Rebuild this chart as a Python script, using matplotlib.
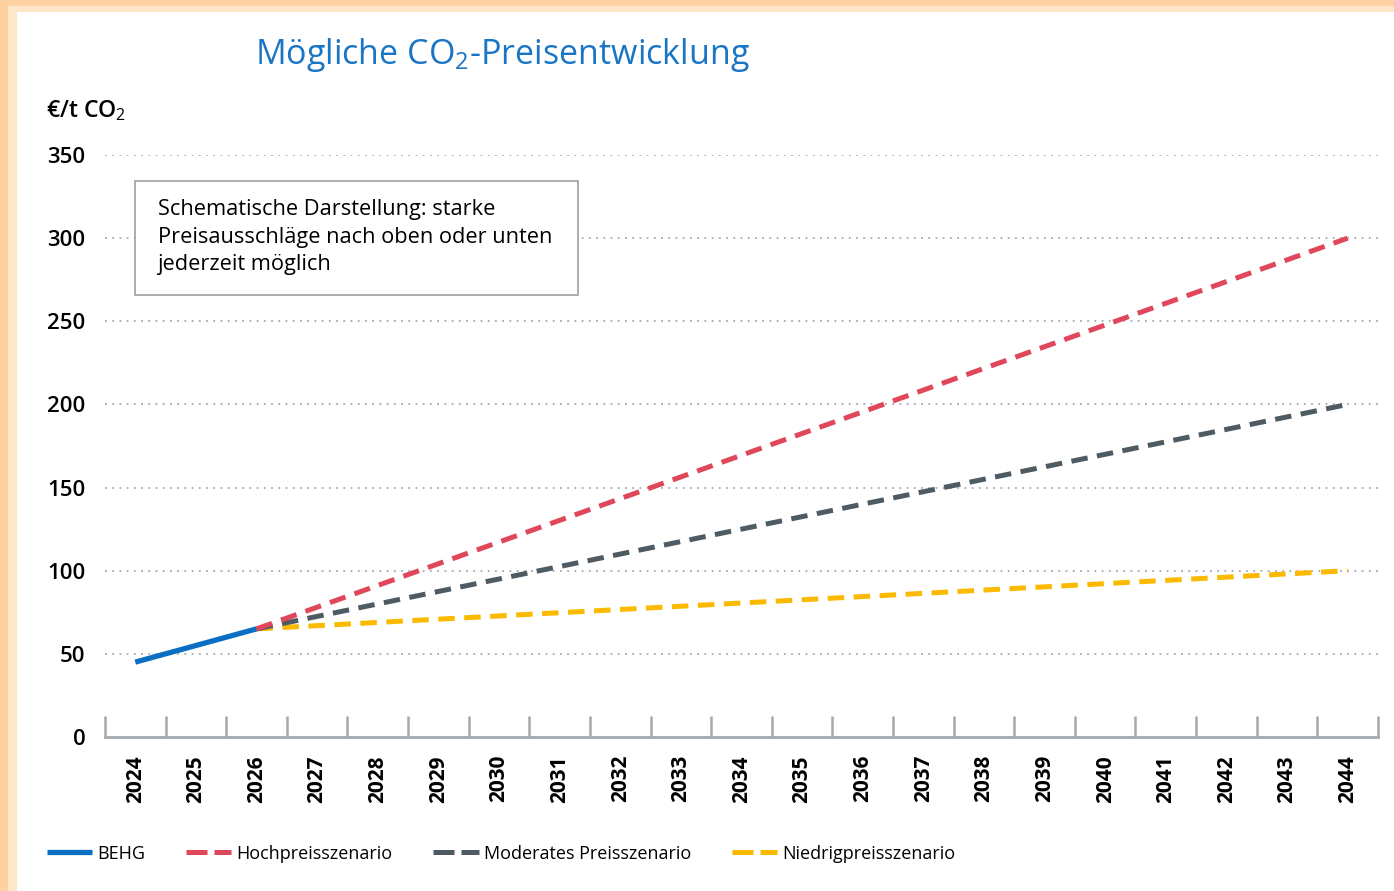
import matplotlib.pyplot as plt
from matplotlib.patches import Rectangle

plt.rcParams['font.family'] = ['Open Sans', 'DejaVu Sans']
plt.rcParams['mathtext.fontset'] = 'custom'
plt.rcParams['mathtext.rm'] = 'Open Sans'
plt.rcParams['mathtext.it'] = 'Open Sans'
plt.rcParams['mathtext.bf'] = 'Open Sans:bold'

years = list(range(2024, 2045))

behg_years = [2024, 2026]
behg_values = [45, 65]

scen_years = [2026, 2044]
hoch_values = [65, 300]
moderat_values = [65, 200]
niedrig_values = [65, 100]

yticks = [0, 50, 100, 150, 200, 250, 300, 350]

blue = '#0a6fc2'
red = '#e0475a'
grey = '#4f5b63'
yellow = '#fbb900'

fig = plt.figure(figsize=(13.94, 8.91), dpi=100)

# orange glow frame
fig.patches.append(Rectangle((0, 0), 1, 1, transform=fig.transFigure,
                             facecolor='#fdd2a0', edgecolor='none', zorder=-3))
fig.patches.append(Rectangle((0.006, 0), 0.994, 0.993, transform=fig.transFigure,
                             facecolor='#fee6c8', edgecolor='none', zorder=-2))
fig.patches.append(Rectangle((0.012, 0), 0.988, 0.987, transform=fig.transFigure,
                             facecolor='white', edgecolor='none', zorder=-1))

ax = fig.add_axes([0.0753, 0.1729, 0.9132, 0.6531])
ax.set_facecolor('none')


def idx(ys):
    return [y - years[0] for y in ys]


ax.plot(idx(scen_years), niedrig_values, color=yellow, lw=3.6, dashes=(3.3, 1.9),
        label='Niedrigpreisszenario', zorder=3)
ax.plot(idx(scen_years), moderat_values, color=grey, lw=3.6, dashes=(3.3, 1.9),
        label='Moderates Preisszenario', zorder=4)
ax.plot(idx(scen_years), hoch_values, color=red, lw=3.6, dashes=(3.3, 1.9),
        label='Hochpreisszenario', zorder=5)
ax.plot(idx(behg_years), behg_values, color=blue, lw=3.8, solid_capstyle='butt',
        label='BEHG', zorder=6)

ax.set_xlim(-0.5, len(years) - 0.5)
ax.set_ylim(0, 350)
ax.set_yticks(yticks)
ax.set_xticks(range(len(years)))
ax.set_xticklabels([str(y) for y in years], rotation=90, fontsize=15,
                   fontweight='bold')
ax.set_xticks([i - 0.5 for i in range(len(years) + 1)], minor=True)
ax.tick_params(axis='x', which='major', length=0, pad=13)
ax.tick_params(axis='x', which='minor', direction='in', length=15, width=1.8,
               color='#a3abb1')
ax.tick_params(axis='y', length=0, pad=14, labelsize=16)
for lab in ax.get_yticklabels():
    lab.set_fontweight('semibold')

ax.grid(axis='y', linestyle=(0, (1, 3)), color='#a3abb1', lw=1.3)
ax.set_axisbelow(True)
for s in ['top', 'right', 'left']:
    ax.spines[s].set_visible(False)
ax.spines['bottom'].set_color('#a3abb1')
ax.spines['bottom'].set_linewidth(2)

fig.text(0.183, 0.938, 'Mögliche CO$_2$-Preisentwicklung', color='#1a75c4',
         fontsize=24.5, va='center', ha='left')
fig.text(0.033, 0.876, '€/t CO$_2$', fontsize=16.5, va='center', ha='left',
         fontweight='semibold')

# note box
fig.patches.append(Rectangle((0.0968, 0.669), 0.318, 0.128, transform=fig.transFigure,
                             facecolor='white', edgecolor='#a0a0a0', lw=1.2, zorder=2))
fig.text(0.113, 0.734,
         'Schematische Darstellung: starke\nPreisausschläge nach oben oder unten\njederzeit möglich',
         fontsize=15.7, va='center', ha='left', linespacing=1.38, zorder=3)

handles, labels = ax.get_legend_handles_labels()
order = [3, 2, 1, 0]
leg = fig.legend([handles[i] for i in order], [labels[i] for i in order],
                 loc='center left', bbox_to_anchor=(0.022, 0.042), ncol=4,
                 frameon=False, fontsize=13, handlelength=2.5, handletextpad=0.3,
                 columnspacing=2.25)
for line in leg.get_lines()[1:]:
    line.set_dashes((4.2, 1.4))

fig.savefig('out.png', dpi=100)
